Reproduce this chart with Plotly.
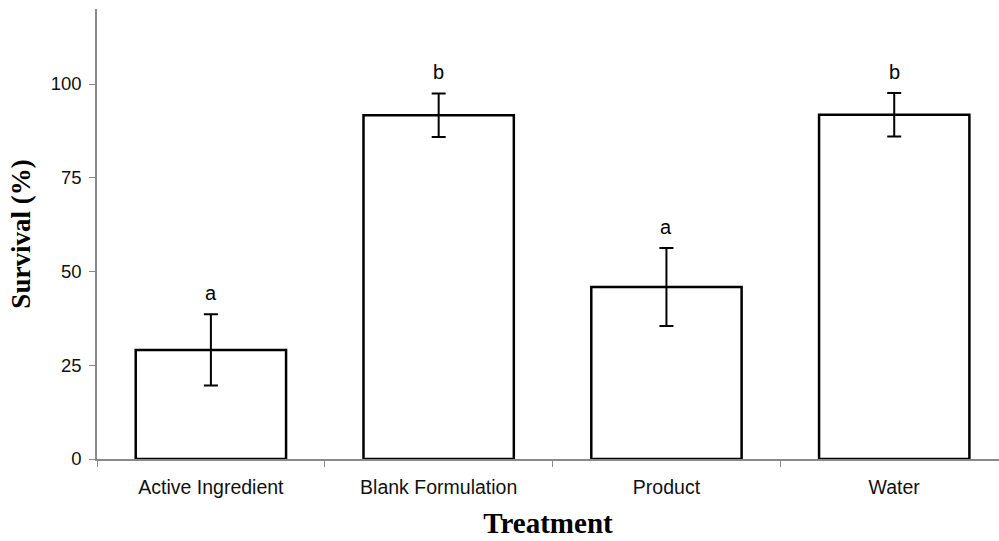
import plotly.graph_objects as go

# Survival by treatment (mean ± error), with significance letters
treatments = ["Active Ingredient", "Blank Formulation", "Product", "Water"]
survival = [29.1, 91.7, 45.9, 91.8]
errors = [9.5, 5.8, 10.4, 5.8]
letters = ["a", "b", "a", "b"]
y_ticks = [0, 25, 50, 75, 100]

positions = list(range(len(treatments)))

fig = go.Figure()
fig.add_trace(go.Bar(
    x=positions,
    y=survival,
    marker=dict(color="white", line=dict(color="black", width=2.5)),
    error_y=dict(type="data", array=errors, visible=True,
                 color="black", thickness=2, width=7),
    width=0.66,
    showlegend=False,
))

for xp, yv, e, lab in zip(positions, survival, errors, letters):
    fig.add_annotation(x=xp, y=yv + e, text=lab, showarrow=False,
                       yanchor="bottom", yshift=8,
                       font=dict(family="Liberation Sans, Arial", size=20, color="black"))

fig.update_layout(
    width=999, height=541,
    margin=dict(l=97, r=0, t=9, b=82),
    plot_bgcolor="white", paper_bgcolor="white",
    xaxis=dict(
        range=[-0.5, 3.46],
        tickmode="array", tickvals=positions, ticktext=treatments,
        ticks="", showgrid=False, zeroline=False,
        ticklabelstandoff=10,
        showline=True, linecolor="#8a8a8a", linewidth=1.5,
        tickfont=dict(family="Liberation Sans, Arial", size=19.5, color="#111"),
        minor=dict(ticks="outside", tick0=0.5, dtick=1, ticklen=6,
                   tickcolor="#8a8a8a", tickwidth=1.2, showgrid=False),
        title=dict(text="<b>Treatment</b>", standoff=16,
                   font=dict(family="Liberation Serif, Times New Roman", size=29, color="black")),
    ),
    yaxis=dict(
        range=[0, 120],
        tickmode="array", tickvals=y_ticks,
        ticks="outside", ticklen=6, tickcolor="#8a8a8a", tickwidth=1.2,
        ticklabelstandoff=4,
        showgrid=False, zeroline=False,
        showline=True, linecolor="#8a8a8a", linewidth=1.5,
        tickfont=dict(family="Liberation Sans, Arial", size=18.5, color="#111"),
        title=dict(text="<b>Survival (%)</b>", standoff=12,
                   font=dict(family="Liberation Serif, Times New Roman", size=27, color="black")),
    ),
)

fig.write_html("out.html")
